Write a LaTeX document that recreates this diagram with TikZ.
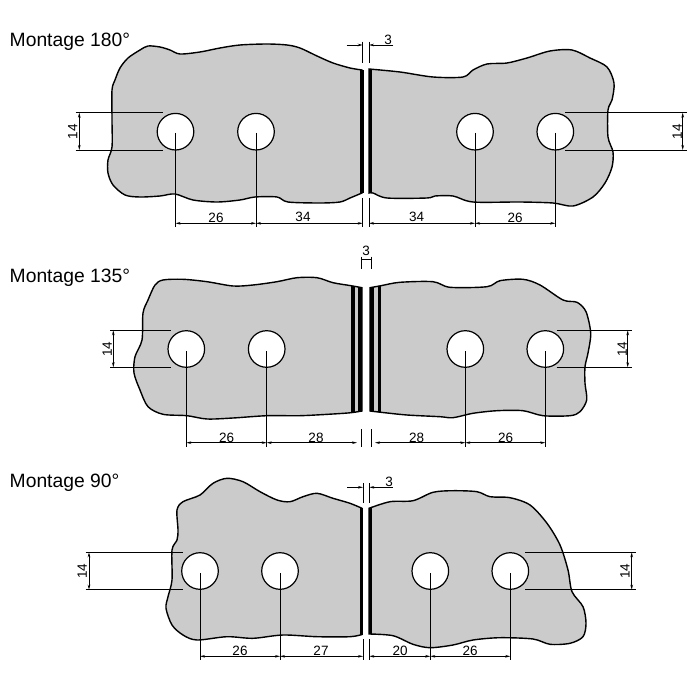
\documentclass[tikz,border=0pt]{standalone}
\usepackage{fontspec}
\setmainfont{Liberation Sans}
\usetikzlibrary{arrows.meta}
\definecolor{plategrey}{HTML}{CCCBCC}
\tikzset{
	plate/.style={draw=black, line width=1.4pt, fill=plategrey},
	hole/.style={draw=black, line width=1.2pt, fill=white},
	bar/.style={fill=black, draw=none},
	dimline/.style={line width=0.9pt, color=black},
	dimarrow/.style={line width=0.8pt, color=black, {Stealth[length=5pt,width=2.6pt]}-{Stealth[length=5pt,width=2.6pt]}},
	dimtip/.style={line width=0.8pt, color=black, -{Stealth[length=5pt,width=2.6pt]}},
	dimtext/.style={inner sep=0pt, font=\fontsize{13.5}{13.5}\selectfont},
	heading/.style={inner sep=0pt, anchor=west, font=\fontsize{19.3}{19.3}\selectfont}
}

\begin{document}
\begin{tikzpicture}[x=1pt, y=-1pt]
	\useasboundingbox (0, 0) rectangle (700, 700);
	%%%%% MONTAGE 180 %%%%%

	\node[heading] (title180) at (9.5, 42) {Montage 180°};

	\draw[plate] plot[smooth, tension=0.5] coordinates {(362,70) (350,68) (333,63) (317,56) (300,48) (287,45) (267,44) (240,45) (220,48) (200,52) (180,54) (170,50) (160,47) (148,46) (140,50) (128,58) (120,68) (115,80) (112,90) (112,120) (112,147) (108,160) (108,173) (113,185) (125,195) (140,197) (160,196) (175,194) (193,200) (217,202) (240,200) (255,197) (277,197) (288,202) (320,203) (340,202) (350,198) (362,193)} -- cycle;
	\draw[plate] plot[smooth, tension=0.5] coordinates {(369,69) (400,72) (433,77) (463,77) (473,70) (487,64) (507,63) (527,58) (550,51) (572,50) (590,58) (607,67) (614,83) (612,100) (608,110) (608,137) (613,152) (612,167) (605,183) (593,197) (573,206) (553,203) (520,202) (473,202) (453,196) (435,196) (427,198) (387,198) (373,193) (369,193)} -- cycle;
	\fill[bar] (360, 70) rectangle (363.5, 193);
	\fill[bar] (368.5, 69) rectangle (372.3, 193);

	\draw[hole] (175.5, 131.7) circle (18.3);
	\draw[hole] (256, 131.7) circle (18.3);
	\draw[hole] (475, 131.7) circle (18.3);
	\draw[hole] (555.3, 131.7) circle (18.3);

	\draw[dimline] (175.5, 133) -- (175.5, 227);
	\draw[dimline] (256, 133) -- (256, 227);
	\draw[dimline] (475, 133) -- (475, 227);
	\draw[dimline] (555.3, 133) -- (555.3, 227);
	\draw[dimline] (75.7, 112.7) -- (163.3, 112.7);
	\draw[dimline] (75.7, 150) -- (163.3, 150);
	\draw[dimline] (565, 112.7) -- (686.7, 112.7);
	\draw[dimline] (565, 150) -- (686.7, 150);
	\draw[dimarrow] (79.3, 112.7) -- (79.3, 150);
	\draw[dimarrow] (682.7, 112.7) -- (682.7, 150);
	\draw[dimarrow] (175.5, 223.3) -- (256, 223.3);
	\draw[dimarrow] (256, 223.3) -- (362.7, 223.3);
	\draw[dimarrow] (369, 223.3) -- (475, 223.3);
	\draw[dimarrow] (475, 223.3) -- (555.3, 223.3);
	\draw[dimline] (362.7, 41.7) -- (362.7, 63.3);
	\draw[dimline] (369, 41.7) -- (369, 63.3);
	\draw[dimline] (362.7, 198) -- (362.7, 227);
	\draw[dimline] (369, 198) -- (369, 227);
	\draw[dimtip] (346.7, 45) -- (362.7, 45);
	\draw[dimtip] (393.3, 45) -- (369, 45);

	\node[dimtext, rotate=90] (a14l) at (72.7, 131.7) {14};
	\node[dimtext, rotate=90] (a14r) at (677.3, 131.7) {14};
	\node[dimtext] (a26l) at (216, 218) {26};
	\node[dimtext] (a34l) at (303, 217) {34};
	\node[dimtext] (a34r) at (416.7, 217) {34};
	\node[dimtext] (a26r) at (515, 218) {26};
	\node[dimtext] (a3) at (388, 39.5) {3};

	%%%%% MONTAGE 135 %%%%%

	\node[heading] (title135) at (9.5, 278) {Montage 135°};

	\draw[plate] plot[smooth, tension=0.5] coordinates {(362,287.7) (351,285.7) (333,282.7) (317,277.7) (297,277.7) (277,281.7) (253,285) (233,286) (207,281.7) (183,279.3) (163,280) (155,285) (148,300) (143,313) (142,340) (135,356.7) (134,373) (140,390) (148,406.7) (163,414.3) (187,415.7) (207,419) (233,418) (267,415.7) (300,415.7) (333,414) (351,412.7) (362,411)} -- cycle;
	\draw[plate] plot[smooth, tension=0.5] coordinates {(370,287.7) (381,285.7) (400,282.3) (433,281.7) (450,287.3) (487,286.7) (500,280.7) (523,279.3) (540,285) (563,300) (577,302.3) (586,311.7) (590.7,333.3) (588,353) (585,366.7) (585,383.3) (586.7,400) (580,411.7) (570,415.7) (543,415.7) (523,410.7) (497,410.7) (473,413.3) (453,417.7) (440,416.7) (407,415) (381,412.3) (370,411)} -- cycle;
	\fill[bar] (351, 285.7) rectangle (355, 412.7);
	\fill[bar] (358.3, 287.3) rectangle (362, 411);
	\fill[bar] (370, 287.3) rectangle (373.7, 411);
	\fill[bar] (377.7, 285.7) rectangle (381.3, 412.3);

	\draw[hole] (186.3, 349) circle (18.3);
	\draw[hole] (266.7, 349) circle (18.3);
	\draw[hole] (465.3, 349) circle (18.3);
	\draw[hole] (545.3, 349) circle (18.3);

	\draw[dimline] (186.3, 351) -- (186.3, 447);
	\draw[dimline] (266.7, 351) -- (266.7, 447);
	\draw[dimline] (465.3, 351) -- (465.3, 447);
	\draw[dimline] (545.3, 351) -- (545.3, 447);
	\draw[dimline] (110, 330.3) -- (170.7, 330.3);
	\draw[dimline] (110, 367.3) -- (170.7, 367.3);
	\draw[dimline] (556.7, 330.3) -- (631.7, 330.3);
	\draw[dimline] (556.7, 367.3) -- (631.7, 367.3);
	\draw[dimarrow] (113.3, 330.3) -- (113.3, 367.3);
	\draw[dimarrow] (627.7, 330.3) -- (627.7, 367.3);
	\draw[dimarrow] (186.3, 442.7) -- (266.7, 442.7);
	\draw[dimarrow] (266.7, 442.7) -- (357, 442.7);
	\draw[dimarrow] (375, 442.7) -- (465.3, 442.7);
	\draw[dimarrow] (465.3, 442.7) -- (545.3, 442.7);
	\draw[dimline] (361, 256.7) -- (361, 269.3);
	\draw[dimline] (371, 256.7) -- (371, 269.3);
	\draw[dimline] (361, 429.3) -- (361, 447);
	\draw[dimline] (371, 429.3) -- (371, 447);
	\draw[dimline] (361, 259) -- (371, 259);

	\node[dimtext, rotate=90] (b14l) at (107.3, 349) {14};
	\node[dimtext, rotate=90] (b14r) at (622.3, 349) {14};
	\node[dimtext] (b26l) at (226.7, 438) {26};
	\node[dimtext] (b28l) at (316, 437.7) {28};
	\node[dimtext] (b28r) at (416.7, 437.7) {28};
	\node[dimtext] (b26r) at (505.7, 438) {26};
	\node[dimtext] (b3) at (366, 251) {3};

	%%%%% MONTAGE 90 %%%%%

	\node[heading] (title90) at (9.5, 483) {Montage 90°};

	\draw[plate] plot[smooth, tension=0.5] coordinates {(362,508.3) (350,503.3) (333,498.3) (317,493.3) (303,496.7) (290,501.7) (277,500) (260,491.7) (243,481.7) (227,478.3) (213,483.3) (200,495) (183,501.7) (177,510) (178,530) (177,540) (172,550) (172,580) (168,596.7) (166,608.3) (172,625) (183,635) (197,640) (227,636.7) (253,638.3) (283,635) (317,636.7) (350,636.7) (362,634.5)} -- cycle;
	\draw[plate] plot[smooth, tension=0.5] coordinates {(369,508.3) (390,501.7) (413,500.7) (433,492.3) (453,490.7) (477,491.7) (490,496.7) (510,497.7) (530,505) (547,523.3) (560,545) (568,570) (572,591.7) (583,606.7) (586,623.3) (583,636.7) (570,643.3) (550,644.3) (533,639) (500,637.7) (473,640) (453,645) (430,647.7) (413,644.3) (393,635.7) (369,634)} -- cycle;
	\fill[bar] (360, 508.3) rectangle (363.3, 634.5);
	\fill[bar] (369, 508.3) rectangle (372.3, 634);

	\draw[hole] (200, 571) circle (18.3);
	\draw[hole] (280, 571) circle (18.3);
	\draw[hole] (430.3, 571) circle (18.3);
	\draw[hole] (510.3, 571) circle (18.3);

	\draw[dimline] (200, 573) -- (200, 660);
	\draw[dimline] (280, 573) -- (280, 660);
	\draw[dimline] (430.3, 573) -- (430.3, 660);
	\draw[dimline] (510.3, 573) -- (510.3, 660);
	\draw[dimline] (85.7, 552.3) -- (183.3, 552.3);
	\draw[dimline] (85.7, 589.7) -- (183.3, 589.7);
	\draw[dimline] (525, 552.3) -- (635.7, 552.3);
	\draw[dimline] (525, 589.7) -- (635.7, 589.7);
	\draw[dimarrow] (89, 552.3) -- (89, 589.7);
	\draw[dimarrow] (631.7, 552.3) -- (631.7, 589.7);
	\draw[dimarrow] (200, 656.3) -- (280, 656.3);
	\draw[dimarrow] (280, 656.3) -- (363, 656.3);
	\draw[dimarrow] (369.3, 656.3) -- (430.3, 656.3);
	\draw[dimarrow] (430.3, 656.3) -- (510.3, 656.3);
	\draw[dimline] (363, 483.3) -- (363, 503.3);
	\draw[dimline] (369.3, 483.3) -- (369.3, 503.3);
	\draw[dimline] (363, 639.3) -- (363, 660);
	\draw[dimline] (369.3, 639.3) -- (369.3, 660);
	\draw[dimtip] (347.3, 487.3) -- (363, 487.3);
	\draw[dimtip] (392.7, 487.3) -- (369.3, 487.3);

	\node[dimtext, rotate=90] (c14l) at (82.3, 571) {14};
	\node[dimtext, rotate=90] (c14r) at (625, 571) {14};
	\node[dimtext] (c26l) at (240, 651) {26};
	\node[dimtext] (c27) at (321, 651) {27};
	\node[dimtext] (c20) at (400, 651) {20};
	\node[dimtext] (c26r) at (470, 651) {26};
	\node[dimtext] (c3) at (389, 482) {3};

	%%%%% END %%%%%
\end{tikzpicture}
\end{document}
